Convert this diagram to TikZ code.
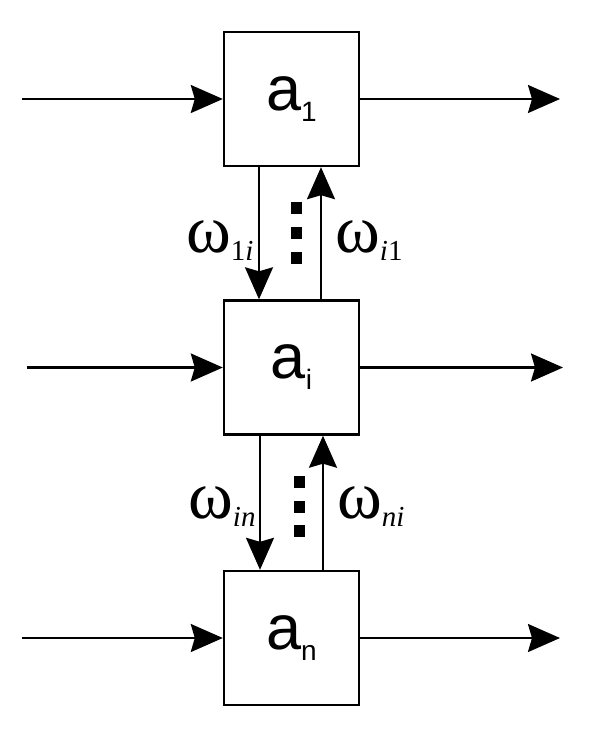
\documentclass[tikz,border=0pt]{standalone}
\usepackage{fontspec}
\setmainfont{Liberation Serif}
\newfontfamily\boxfont{Liberation Sans}
\usetikzlibrary{arrows.meta}
\tikzset{
    agent/.style={draw,line width=2.4pt,minimum width=135pt,minimum height=134pt,inner sep=0pt,
        font=\boxfont\fontsize{63}{63}\selectfont},
    flow/.style={line width=2.2pt,-{Stealth[length=32pt,width=28pt,inset=4pt]}},
    wlabel/.style={anchor=base west,inner sep=0pt,font=\fontsize{68}{68}\selectfont}
}
\newcommand{\sub}[1]{\raisebox{-11pt}{\fontsize{28}{28}\selectfont #1}}
\newcommand{\wsub}[1]{\raisebox{-8pt}{\fontsize{29}{29}\selectfont #1}}
\begin{document}
\begin{tikzpicture}[x=1pt,y=-1pt]
            \useasboundingbox (0,0) rectangle (590,729);
            \node[agent] (a1) at (291.5,99) {a\sub{1}};
            \node[agent] (ai) at (291.5,367.5) {a\sub{i}};
            \node[agent] (an) at (291.5,638) {a\sub{n}};
            \coordinate (in1) at (22,99);
            \coordinate (ini) at (27,367.5);
            \coordinate (inn) at (22,638);
            \coordinate (out1) at (560,99);
            \coordinate (outi) at (563,367.5);
            \coordinate (outn) at (560,638);
            \draw[flow] (in1)--(a1);
            \draw[flow] (ini)--(ai);
            \draw[flow] (inn)--(an);
            \draw[flow] (a1)--(out1);
            \draw[flow] (ai)--(outi);
            \draw[flow] (an)--(outn);
            \draw[flow]
                ([xshift=-32.5pt]a1.south)--([xshift=-32.5pt]ai.north);
            \draw[flow]
                ([xshift=29.5pt]ai.north)--([xshift=29.5pt]a1.south);
            \draw[flow]
                ([xshift=-31.5pt]ai.south)--([xshift=-31.5pt]an.north);
            \draw[flow]
                ([xshift=31.5pt]an.north)--([xshift=31.5pt]ai.south);
            \foreach \y in {208,233,258}
                {\fill (290.5,{\y-6}) rectangle (301.5,{\y+6});}
            \foreach \y in {482,507,531}
                {\fill (293.5,{\y-6}) rectangle (304.5,{\y+6});}
            \node[wlabel] (w1i) at (186,252) {ω\wsub{1\textit{i}}};
            \node[wlabel] (wi1) at (335,252) {ω\wsub{\textit{i}1}};
            \node[wlabel] (win) at (188,518) {ω\wsub{\textit{in}}};
            \node[wlabel] (wni) at (337,518) {ω\wsub{\textit{ni}}};
\end{tikzpicture}
\end{document}
